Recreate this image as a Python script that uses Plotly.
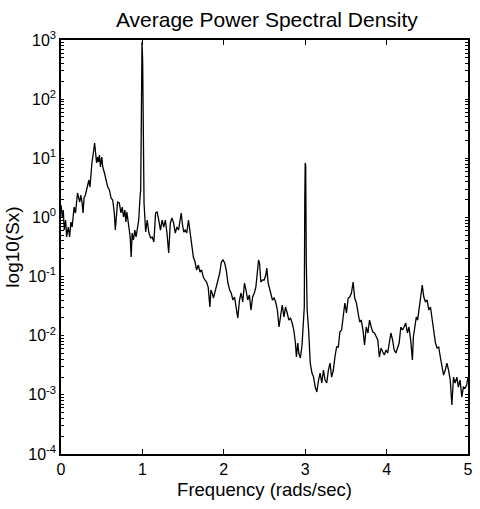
import plotly.graph_objects as go

# Frequency (rads/sec)
freq = [
    0.000, 0.016, 0.028, 0.040, 0.057, 0.069, 0.089, 0.106, 0.121, 0.137,
    0.149, 0.161, 0.178, 0.191, 0.203, 0.218, 0.231, 0.243, 0.258, 0.271,
    0.283, 0.300, 0.312, 0.331, 0.343, 0.356, 0.368, 0.380, 0.397, 0.413,
    0.425, 0.437, 0.449, 0.461, 0.473, 0.485, 0.501, 0.513, 0.534, 0.555,
    0.574, 0.595, 0.615, 0.635, 0.655, 0.667, 0.680, 0.695, 0.716, 0.737,
    0.752, 0.768, 0.785, 0.797, 0.809, 0.825, 0.837, 0.850, 0.862, 0.874,
    0.890, 0.907, 0.922, 0.938, 0.955, 0.971, 0.979, 0.987, 0.995, 1.003,
    1.011, 1.020,
    1.040, 1.059, 1.080, 1.101, 1.120, 1.141, 1.162, 1.181, 1.201, 1.222,
    1.242, 1.262, 1.282, 1.302, 1.323, 1.343, 1.363, 1.383, 1.404, 1.424,
    1.444, 1.465, 1.477, 1.493, 1.508, 1.525, 1.545, 1.566, 1.586, 1.606,
    1.626, 1.647, 1.666, 1.687, 1.708, 1.727, 1.748, 1.768, 1.788, 1.808,
    1.829, 1.841, 1.857, 1.873, 1.890, 1.909, 1.930, 1.950, 1.970, 1.990,
    2.011, 2.030, 2.051, 2.072, 2.091, 2.112, 2.132, 2.152, 2.172,
    2.193, 2.212, 2.233, 2.254, 2.273, 2.294, 2.314, 2.334, 2.354, 2.375,
    2.394, 2.415, 2.427, 2.439, 2.455, 2.476, 2.496, 2.516, 2.528, 2.545,
    2.561, 2.576, 2.597, 2.618, 2.637, 2.658, 2.678, 2.698, 2.718, 2.739,
    2.758, 2.779, 2.799, 2.819, 2.840, 2.860, 2.880, 2.892, 2.909, 2.921,
    2.941, 2.961, 2.973, 2.989, 2.995, 3.000, 3.006, 3.013, 3.024, 3.042,
    3.062, 3.083, 3.103, 3.123, 3.143, 3.164, 3.183, 3.204, 3.224, 3.244,
    3.265, 3.285, 3.305, 3.325, 3.346, 3.365, 3.386,
    3.407, 3.426, 3.447, 3.467, 3.487, 3.507, 3.528, 3.547, 3.568, 3.589,
    3.608, 3.629, 3.649, 3.669, 3.689, 3.710, 3.729, 3.750, 3.771, 3.790,
    3.811, 3.831, 3.851, 3.871, 3.892, 3.911, 3.932, 3.953, 3.972, 3.993,
    4.013, 4.033, 4.053, 4.074, 4.093, 4.114, 4.135, 4.154, 4.175, 4.195,
    4.215, 4.235, 4.256, 4.275, 4.296, 4.317, 4.329, 4.348, 4.365, 4.381,
    4.397, 4.417, 4.438, 4.457, 4.478, 4.499, 4.518, 4.539, 4.559, 4.579,
    4.600, 4.620, 4.640, 4.660, 4.681, 4.700, 4.721, 4.741, 4.761, 4.782,
    4.802, 4.822, 4.842, 4.863, 4.882, 4.903, 4.924, 4.943, 4.964, 4.984,
    5.000,
]

# log10 of the averaged power spectral density Sx
log_sx = [
    0.210, 0.007, 0.126, -0.213, -0.044, -0.331, -0.162, -0.331, -0.077, -0.162,
    0.007, 0.176, 0.075, 0.345, 0.413, 0.328, 0.261, 0.379, 0.261, 0.075,
    0.328, 0.379, 0.464, 0.582, 0.633, 0.514, 0.802, 0.920, 1.089, 1.259,
    1.089, 0.920, 1.022, 0.937, 1.056, 0.853, 1.022, 0.853, 0.751, 0.633,
    0.514, 0.464, 0.328, 0.295, 0.075, -0.213, 0.007, 0.261, 0.244, 0.075,
    0.176, 0.007, 0.126, -0.077, 0.092, -0.044, -0.213, -0.331, -0.669, -0.264,
    -0.382, -0.213, -0.331, -0.162, -0.044, 0.345, 0.464, 1.647, 2.966, 2.662,
    1.140, 0.244,
    -0.247, -0.044, -0.264, -0.348, -0.331, -0.416, 0.075, 0.092, -0.044, -0.213,
    -0.044, -0.162, -0.044, -0.264, -0.602, -0.094, -0.010, -0.094, -0.264, -0.162,
    -0.213, -0.044, 0.075, -0.128, -0.247, -0.213, -0.264, -0.044, -0.264, -0.433,
    -0.669, -0.754, -0.889, -0.805, -0.923, -0.889, -1.008, -1.058, -1.092, -1.177,
    -1.515, -1.228, -1.278, -1.363, -1.278, -1.177, -1.058, -0.940, -0.754, -0.720,
    -0.771, -0.889, -1.109, -1.228, -1.278, -1.396, -1.346, -1.566, -1.701,
    -1.396, -1.278, -1.430, -1.109, -1.228, -1.396, -1.312, -1.566, -1.346, -1.278,
    -1.177, -0.940, -0.720, -0.771, -1.092, -1.058, -1.058, -0.974, -0.856, -1.109,
    -1.177, -1.278, -1.396, -1.363, -1.430, -1.566, -1.853, -1.616, -1.481, -1.684,
    -1.515, -1.616, -1.735, -1.701, -1.785, -1.904, -2.123, -2.360, -2.123, -2.293,
    -2.377, -2.157, -1.853, -1.515, 0.295, 0.920, 0.886, -0.720, -1.566, -1.904,
    -2.462, -2.631, -2.699, -2.868, -2.952, -2.749, -2.631, -2.800, -2.580, -2.749,
    -2.800, -2.580, -2.462, -2.699, -2.580, -2.360, -2.191,
    -2.191, -1.937, -1.904, -1.684, -1.447, -1.616, -1.363, -1.346, -1.278, -1.092,
    -1.363, -1.447, -1.616, -1.768, -1.735, -1.904, -2.157, -1.853, -1.954, -1.735,
    -1.853, -1.937, -1.954, -2.022, -2.073, -2.360, -2.208, -2.276, -2.326, -2.242,
    -2.293, -2.123, -1.954, -2.073, -2.242, -2.293, -2.191, -2.123, -1.853, -1.904,
    -1.853, -1.785, -1.954, -1.853, -2.073, -2.411, -2.022, -1.853, -1.684, -1.735,
    -1.566, -1.447, -1.143, -1.346, -1.430, -1.396, -1.566, -1.515, -1.735, -1.853,
    -2.123, -2.208, -2.191, -2.360, -2.530, -2.665, -2.580, -2.462, -2.580, -2.749,
    -3.172, -2.699, -2.800, -2.699, -2.868, -2.749, -3.037, -2.868, -2.885, -2.834,
    -2.699,
]

sx = [10 ** v for v in log_sx]

x_ticks = [0, 1, 2, 3, 4, 5]
y_exponents = [-4, -3, -2, -1, 0, 1, 2, 3]

# decade ticks carry labels, in-between (2..9) ticks are unlabeled minor marks
y_tickvals, y_ticktext = [], []
for e in y_exponents:
    y_tickvals.append(10 ** e)
    y_ticktext.append("10<sup>%d</sup>" % e)
    if e < y_exponents[-1]:
        for m in range(2, 10):
            y_tickvals.append(m * 10 ** e)
            y_ticktext.append("")

fig = go.Figure()
fig.add_trace(go.Scatter(
    x=freq, y=sx, mode="lines",
    line=dict(color="black", width=1.3),
    showlegend=False,
))

font_family = "Liberation Sans, Arial, Helvetica, sans-serif"

fig.update_layout(
    template="simple_white",
    width=480, height=509,
    margin=dict(l=61, r=7, t=40, b=55),
    paper_bgcolor="white", plot_bgcolor="white",
    font=dict(family=font_family, color="black", size=15),
    title=dict(text="Average Power Spectral Density", x=0.556, xanchor="center",
               y=0.962, yanchor="middle", font=dict(size=21, color="black")),
)

fig.update_xaxes(
    range=[0, 5], tickvals=x_ticks, ticktext=[str(t) for t in x_ticks],
    ticks="inside", ticklen=5, tickcolor="black", tickwidth=1.2,
    showline=True, linecolor="black", linewidth=1.5, mirror="allticks",
    showgrid=False, zeroline=False,
    tickfont=dict(size=16),
    title=dict(text="Frequency (rads/sec)", font=dict(size=18.5), standoff=6),
)

fig.update_yaxes(
    type="log", range=[-4, 3], tickvals=y_tickvals, ticktext=y_ticktext,
    ticks="inside", ticklen=3, tickcolor="black", tickwidth=1.2,
    showline=True, linecolor="black", linewidth=1.5, mirror="allticks",
    showgrid=False, zeroline=False,
    tickfont=dict(size=16),
    title=dict(text="log10(Sx)", font=dict(size=19), standoff=4),
)

fig.write_html("out.html")
